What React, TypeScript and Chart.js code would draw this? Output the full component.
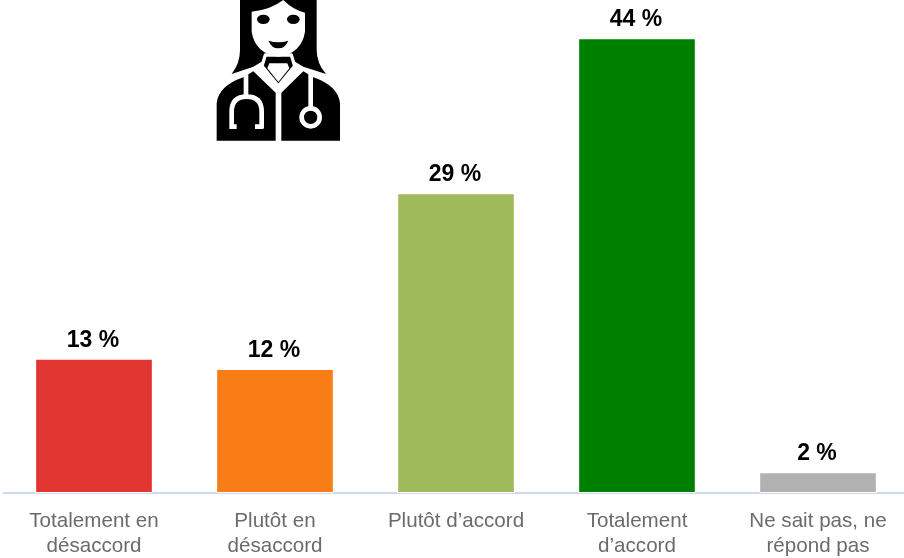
import React, { useEffect, useRef } from "react";
import { Chart, registerables } from "chart.js";

Chart.register(...registerables);

const categories = [
  ["Totalement en", "désaccord"],
  ["Plutôt en", "désaccord"],
  ["Plutôt d’accord"],
  ["Totalement", "d’accord"],
  ["Ne sait pas, ne", "répond pas"],
];
const values = [13, 12, 29, 44, 2];
const barColors = ["#E03531", "#F97D17", "#9FBB59", "#008000", "#B1B1B1"];
const FONT = "'Liberation Sans', Arial, sans-serif";

const valueLabels = {
  id: "valueLabels",
  afterDatasetsDraw(chart: any) {
    const { ctx } = chart;
    ctx.save();
    ctx.font = `bold 23px ${FONT}`;
    ctx.fillStyle = "#000000";
    ctx.textAlign = "center";
    ctx.textBaseline = "alphabetic";
    chart.getDatasetMeta(0).data.forEach((bar: any, i: number) => {
      ctx.fillText(`${values[i]} %`, bar.x - 1, bar.y - 12);
    });
    ctx.restore();
  },
};

function DoctorIcon() {
  return (
    <svg
      viewBox="0 0 540 450"
      width={180}
      height={150}
      style={{ position: "absolute", left: 190, top: 0 }}
    >
      <path d="M150 0 L150 150 Q150 190 125 222 L190 200 L215 185 L315 185 L340 200 L408 222 Q380 190 380 150 L380 0 Z" fill="#000" />
      <path d="M80 422 L80 310 Q85 258 160 232 L190 214 L257 278 L257 422 Z" fill="#000" />
      <path d="M450 422 L450 310 Q445 258 370 232 L340 214 L274 278 L274 422 Z" fill="#000" />
      <path d="M226 165 L304 165 L314 198 L265 258 L216 198 Z" fill="#000" stroke="#fff" strokeWidth="10" strokeLinejoin="round" />
      <path d="M238 190 L292 190 L298 205 L265 246 L232 205 Z" fill="#fff" />
      <path d="M185 35 Q240 30 280 0 Q310 30 345 38 L345 95 Q335 160 265 170 Q195 160 185 95 Z" fill="#fff" />
      <ellipse cx="220" cy="58" rx="19" ry="14" fill="#000" />
      <ellipse cx="310" cy="58" rx="19" ry="14" fill="#000" />
      <path d="M235 122 Q265 132 295 122 Q285 145 265 145 Q245 145 235 122 Z" fill="#000" />
      <path d="M168 222 L168 285 M125 385 L125 335 Q125 290 170 290 Q215 290 215 335 L215 385 M118 380 L140 380 M195 380 L220 380 M362 222 L362 325" stroke="#fff" strokeWidth="14" fill="none" />
      <circle cx="362" cy="352" r="27" stroke="#fff" strokeWidth="14" fill="#000" />
    </svg>
  );
}

export default function App() {
  const ref = useRef<HTMLCanvasElement>(null);

  useEffect(() => {
    document.body.style.margin = "0";
    const chart = new Chart(ref.current!, {
      type: "bar",
      data: {
        labels: categories as any,
        datasets: [
          {
            data: values,
            backgroundColor: barColors,
            borderColor: "#ffffff",
            borderWidth: 1,
            borderSkipped: false,
            categoryPercentage: 1,
            barPercentage: 0.65,
          },
        ],
      },
      options: {
        responsive: false,
        animation: false,
        layout: { padding: { left: 3.5, right: 1.5, top: 0, bottom: 0 } },
        plugins: { legend: { display: false }, tooltip: { enabled: false } },
        scales: {
          y: { display: false, min: 0, max: 47.7 },
          x: {
            grid: { display: false, drawTicks: false },
            border: { display: true, color: "#CFD8EE", width: 2 },
            ticks: {
              color: "#6B6B6B",
              font: { family: FONT, size: 20.6, lineHeight: 1.22 },
              padding: 16,
              maxRotation: 0,
              autoSkip: false,
            },
            afterFit(scale: any) {
              scale.height = 65;
            },
          },
        },
      },
      plugins: [valueLabels],
    });
    return () => chart.destroy();
  }, []);

  return (
    <div style={{ position: "relative", width: 904, height: 558, overflow: "hidden", background: "#fff" }}>
      <canvas ref={ref} width={910} height={558} style={{ display: "block" }} />
      <DoctorIcon />
    </div>
  );
}
